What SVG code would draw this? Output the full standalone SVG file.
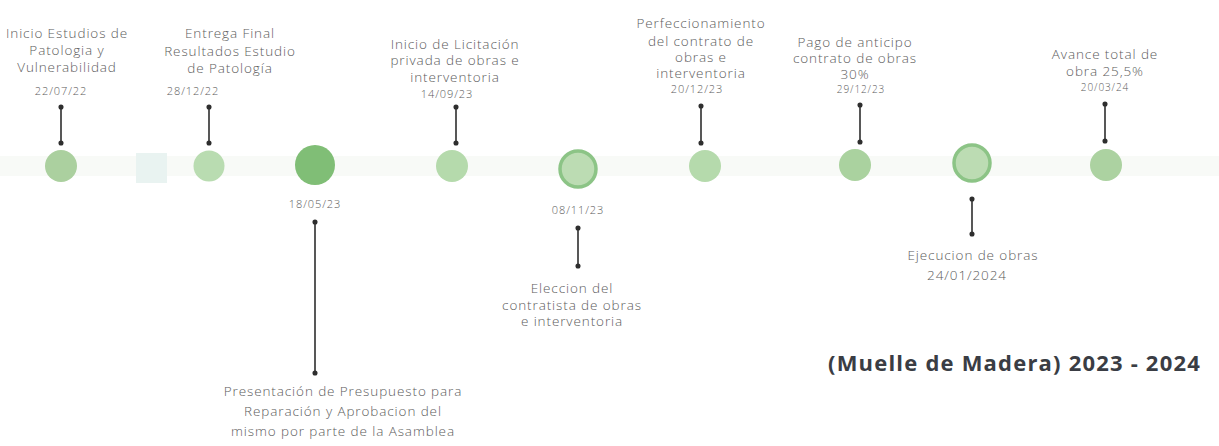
<svg xmlns="http://www.w3.org/2000/svg" width="1219" height="446" viewBox="0 0 1219 446">
<defs>
<marker id="dot" viewBox="0 0 6 6" refX="3" refY="3" markerWidth="3.2" markerHeight="3.2" markerUnits="strokeWidth">
<circle cx="3" cy="3" r="3" fill="#2e2e2e"/>
</marker>
<style>
.lbl{font-family:"Open Sans","Liberation Sans",sans-serif;font-weight:300;font-size:13.5px;letter-spacing:0.9px;fill:#5c5c5c;text-anchor:middle}
.dt{font-family:"Open Sans","Liberation Sans",sans-serif;font-weight:300;font-size:11px;letter-spacing:0.9px;fill:#5c5c5c;text-anchor:middle}
.conn line{stroke:#2e2e2e;stroke-width:1.6;marker-start:url(#dot);marker-end:url(#dot)}
.n{fill:#afd4a4}
.ring{fill:#bcdcb3;stroke:#8cc486;stroke-width:3.5}
.title{font-family:"Open Sans","Liberation Sans",sans-serif;font-weight:700;font-size:22px;letter-spacing:1.2px;fill:#3a3d44}
</style>
</defs>
<rect width="1219" height="446" fill="#ffffff"/>
<rect x="0" y="156" width="1219" height="20" fill="#f8faf7"/>
<rect x="136" y="153" width="31" height="30" fill="#e9f3f1"/>

<g id="connectors" class="conn">
<line x1="61" y1="107" x2="61" y2="143"/>
<line x1="209" y1="107" x2="209" y2="143"/>
<line x1="315" y1="222" x2="315" y2="373"/>
<line x1="456" y1="107" x2="456" y2="143"/>
<line x1="578" y1="228" x2="578" y2="266"/>
<line x1="701" y1="106" x2="701" y2="143"/>
<line x1="860" y1="105" x2="860" y2="142"/>
<line x1="972" y1="199" x2="972" y2="234"/>
<line x1="1105" y1="104" x2="1105" y2="141"/>
</g>

<g id="node1">
<circle class="n" cx="61" cy="166" r="16" style="fill:#abd09f"/>
<text class="lbl" x="67" y="38">Inicio Estudios de</text>
<text class="lbl" x="67" y="55">Patologia y</text>
<text class="lbl" x="67" y="72">Vulnerabilidad</text>
<text class="dt" x="61" y="95">22/07/22</text>
</g>

<g id="node2">
<circle class="n" cx="209" cy="166" r="15.5" style="fill:#b9dcb1"/>
<text class="lbl" x="230" y="38">Entrega Final</text>
<text class="lbl" x="230" y="56">Resultados Estudio</text>
<text class="lbl" x="230" y="73">de Patología</text>
<text class="dt" x="193" y="95">28/12/22</text>
</g>

<g id="node3">
<circle cx="315" cy="165" r="20" fill="#80be76"/>
<text class="dt" x="315" y="208">18/05/23</text>
<text class="lbl" x="343" y="396">Presentación de Presupuesto para</text>
<text class="lbl" x="343" y="416">Reparación y Aprobacion del</text>
<text class="lbl" x="343" y="436">mismo por parte de la Asamblea</text>
</g>

<g id="node4">
<circle class="n" cx="452" cy="166" r="16" style="fill:#b5daac"/>
<text class="lbl" x="455" y="49">Inicio de Licitación</text>
<text class="lbl" x="455" y="65">privada de obras e</text>
<text class="lbl" x="455" y="82">interventoria</text>
<text class="dt" x="447" y="98">14/09/23</text>
</g>

<g id="node5">
<circle class="ring" cx="578" cy="169" r="18"/>
<text class="dt" x="578" y="214">08/11/23</text>
<text class="lbl" x="572" y="293">Eleccion del</text>
<text class="lbl" x="572" y="310">contratista de obras</text>
<text class="lbl" x="572" y="326">e interventoria</text>
</g>

<g id="node6">
<circle class="n" cx="705" cy="166" r="16" style="fill:#b5daac"/>
<text class="lbl" x="701" y="28">Perfeccionamiento</text>
<text class="lbl" x="701" y="46">del contrato de</text>
<text class="lbl" x="701" y="62">obras e</text>
<text class="lbl" x="701" y="78">interventoria</text>
<text class="dt" x="697" y="93">20/12/23</text>
</g>

<g id="node7">
<circle class="n" cx="855" cy="165" r="16" style="fill:#aad29f"/>
<text class="lbl" x="855" y="47">Pago de anticipo</text>
<text class="lbl" x="855" y="63">contrato de obras</text>
<text class="lbl" x="855" y="79">30%</text>
<text class="dt" x="861" y="93" style="font-size:10px">29/12/23</text>
</g>

<g id="node8">
<circle class="ring" cx="972" cy="163" r="18"/>
<text class="lbl" x="973" y="260">Ejecucion de obras</text>
<text class="lbl" x="967" y="280">24/01/2024</text>
</g>

<g id="node9">
<circle class="n" cx="1106" cy="165" r="16" style="fill:#acd2a1"/>
<text class="lbl" x="1105" y="59">Avance total de</text>
<text class="lbl" x="1105" y="76">obra 25,5%</text>
<text class="dt" x="1105" y="91" style="font-size:10px">20/03/24</text>
</g>

<text class="title" x="828" y="371">(Muelle de Madera) 2023 - 2024</text>
</svg>
